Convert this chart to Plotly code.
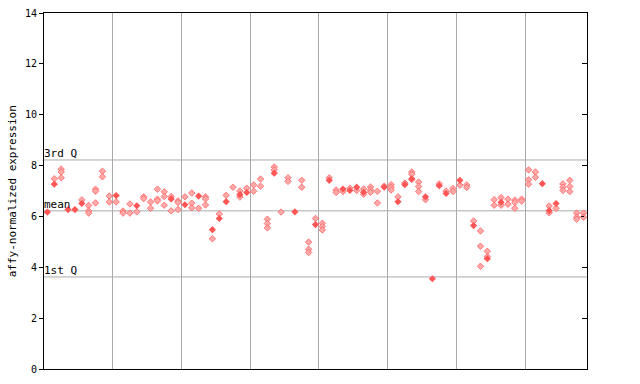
import plotly.graph_objects as go

# Replicate measurements (hollow diamonds): column index and value
rep_col = [1, 2, 2, 2, 5, 6, 6, 6, 7, 7, 7, 8, 8, 9, 9, 10, 11, 11, 12, 12, 13,
           14, 14, 15, 15, 16, 16, 16, 17, 17, 17, 18, 18, 19, 19, 19, 20, 21, 21, 21,
           22, 23, 23, 23, 24, 25, 26, 27, 28, 28, 29, 30, 30, 31, 31, 32, 32, 32,
           33, 33, 34, 35, 35, 37, 37, 38, 38, 38, 39, 40, 40, 40, 41, 42, 42, 43,
           44, 45, 46, 46, 47, 47, 47, 48, 48, 49, 50, 50, 50, 51, 52, 53, 53, 53,
           54, 54, 54, 55, 57, 58, 59, 59, 60, 61, 61, 62, 63, 63, 63, 64, 64, 65, 65,
           66, 66, 67, 67, 68, 68, 68, 69, 69, 70, 70, 70, 71, 71, 73, 73, 74,
           75, 75, 75, 76, 76, 76, 77, 77, 77, 78, 78]
rep_val = [7.48, 7.86, 7.75, 7.52, 6.65, 6.43, 6.22, 6.13, 7.07, 6.99, 6.53, 7.78, 7.56,
           6.80, 6.57, 6.57, 6.21, 6.13, 6.49, 6.13, 6.18,
           6.77, 6.70, 6.57, 6.32, 7.07, 6.68, 6.61, 6.97, 6.78, 6.44, 6.78, 6.22,
           6.61, 6.55, 6.27, 6.77, 6.92, 6.52, 6.34,
           6.32, 6.77, 6.69, 6.45, 5.12, 6.10, 6.83, 7.15, 7.00, 6.76, 7.11, 7.24, 6.99,
           7.47, 7.19, 5.89, 5.72, 5.55,
           7.94, 7.83, 6.17, 7.52, 7.38, 7.42, 7.15, 4.99, 4.71, 4.58, 5.92, 5.73, 5.60,
           5.47, 7.52, 7.04, 6.94, 6.98,
           7.11, 7.02, 7.08, 6.87, 7.16, 7.04, 6.95, 6.99, 6.53, 7.19, 7.25, 7.14, 7.04,
           6.77, 7.31, 7.75, 7.66, 7.45,
           7.35, 7.18, 6.98, 6.66, 7.28, 7.00, 7.10, 6.98, 7.23, 7.24, 7.14, 5.82, 5.43,
           4.83, 4.04, 4.63, 4.42, 6.66, 6.44,
           6.74, 6.44, 6.68, 6.48, 6.64, 6.55, 6.32, 6.68, 6.60, 7.83, 7.44, 7.27, 7.75,
           7.54, 6.41, 6.14, 6.32,
           7.28, 7.15, 7.02, 7.42, 7.18, 6.98, 6.13, 5.97, 5.89, 6.13, 5.97]

# Highlighted values (solid diamonds)
hi_col = [0, 1, 3, 4, 5, 10, 13, 18, 20, 22, 24, 25, 26, 28, 29, 33, 36, 39, 41, 43,
          44, 45, 46, 49, 51, 52, 53, 55, 56, 57, 58, 60, 62, 64, 66, 72, 73, 74]
hi_val = [6.17, 7.27, 6.27, 6.27, 6.51, 6.82, 6.42, 6.69, 6.46, 6.80, 5.48, 5.92, 6.58,
          6.86, 6.94, 7.70, 6.18, 5.68, 7.42, 7.08,
          7.02, 7.15, 6.95, 7.15, 6.58, 7.25, 7.48, 6.77, 3.55, 7.21, 6.90, 7.42, 5.64,
          4.34, 6.56, 7.29, 6.23, 6.51]

n_columns = 79
group_bounds = [10, 20, 30, 40, 50, 60, 70]
y_ticks = [0, 2, 4, 6, 8, 10, 12, 14]
stat_names = ["3rd Q", "mean", "1st Q"]
stat_vals = [8.22, 6.22, 3.62]

RED = "#ff5555"
FONT = "DejaVu Sans Mono"

fig = go.Figure()
fig.add_trace(go.Scatter(
    x=[c + 0.5 for c in rep_col], y=rep_val, mode="markers",
    marker=dict(symbol="diamond", size=5, color="#ffa8a8",
                line=dict(color="#ff5858", width=0.7)),
    hoverinfo="y", showlegend=False))
fig.add_trace(go.Scatter(
    x=[c + 0.5 for c in hi_col], y=hi_val, mode="markers",
    marker=dict(symbol="diamond", size=5.5, color=RED, line=dict(width=0)),
    hoverinfo="y", showlegend=False))
# invisible trace for right axis
fig.add_trace(go.Scatter(x=[0], y=[0], yaxis="y2", mode="markers",
                         marker=dict(opacity=0), hoverinfo="skip", showlegend=False))

for name, v in zip(stat_names, stat_vals):
    fig.add_shape(type="line", xref="paper", x0=0, x1=1, y0=v, y1=v,
                  line=dict(color="#aaaaaa", width=1), layer="below")
    fig.add_annotation(x=0, xref="paper", y=v, yref="y", text=name, showarrow=False,
                       xanchor="left", yanchor="bottom", xshift=-2, yshift=-2,
                       font=dict(family=FONT, size=11, color="black"))

# dotted tick on the right axis at the mean
fig.add_shape(type="line", xref="paper", x0=1 - 6 / 543.6, x1=1, y0=6, y1=6,
              line=dict(color="black", width=1, dash="dot"))

fig.add_annotation(x=-(43.7 - 12) / 543.6, xref="paper", y=0.5, yref="paper",
                   text="affy-normalized expression", textangle=-90, showarrow=False,
                   xanchor="center", yanchor="middle",
                   font=dict(family=FONT, size=11, color="black"))

fig.update_layout(
    width=640, height=384,
    margin=dict(l=44, r=53, t=13, b=15),
    paper_bgcolor="white", plot_bgcolor="white",
    xaxis=dict(range=[0, n_columns], tickvals=group_bounds, showticklabels=False,
               ticks="", showgrid=True, gridcolor="#aaaaaa", gridwidth=1,
               showline=True, linecolor="black", linewidth=1, mirror=True,
               zeroline=False),
    yaxis=dict(range=[0, 14], tickvals=y_ticks, ticks="outside", ticklen=4,
               tickcolor="black", showgrid=False, zeroline=False, automargin=False,
               showline=True, linecolor="black", linewidth=1, mirror=True,
               tickfont=dict(family=FONT, size=10, color="black")),
    yaxis2=dict(range=[0, 14], overlaying="y", side="right", tickvals=[2, 4, 8, 10, 12],
                ticks="inside", ticklen=5, tickcolor="black", showticklabels=False,
                showgrid=False, zeroline=False, showline=False, automargin=False),
)

fig.write_html("out.html", config={"displayModeBar": False},
               post_script="document.body.style.margin='0';document.body.style.overflow='hidden';")
